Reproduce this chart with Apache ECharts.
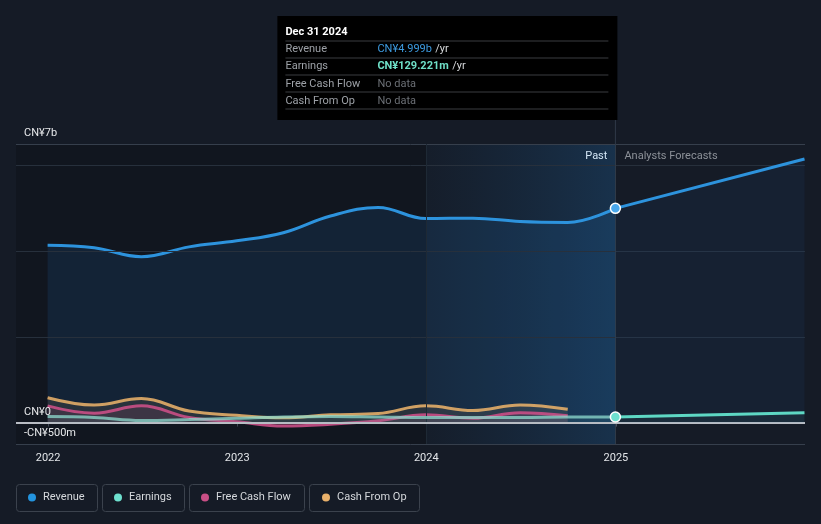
<!DOCTYPE html>
<html>
<head>
<meta charset="utf-8">
<title>Revenue and earnings</title>
<script src="https://cdn.jsdelivr.net/npm/echarts@6.0.0/dist/echarts.min.js"></script>
<style>
  html, body { margin: 0; padding: 0; background: #151b26; }
  #chart { width: 821px; height: 524px; }
</style>
</head>
<body>
<div id="chart"></div>
<script>
// values in CN¥ billions, quarter ends
var pastDates = ['2021-12-31', '2022-03-31', '2022-06-30', '2022-09-30', '2022-12-31', '2023-03-31',
  '2023-06-30', '2023-09-30', '2023-12-31', '2024-03-31', '2024-06-30', '2024-09-30', '2024-12-31'];
var revenuePast = [4.14, 4.08, 3.87, 4.10, 4.24, 4.43, 4.82, 5.02, 4.76, 4.77, 4.69, 4.67, 4.999];
var earningsPast = [0.14, 0.12, 0.05, 0.07, 0.10, 0.13, 0.14, 0.13, 0.12, 0.12, 0.12, 0.13, 0.129];
// cash flow data stops one quarter earlier
var fcfPast = [0.39, 0.22, 0.39, 0.12, 0.02, -0.08, -0.04, 0.04, 0.18, 0.10, 0.23, 0.16];
var cfoPast = [0.58, 0.41, 0.56, 0.27, 0.17, 0.11, 0.18, 0.21, 0.39, 0.28, 0.41, 0.31];

var forecastDates = ['2024-12-31', '2025-12-31'];
var revenueForecast = [4.999, 6.15];
var earningsForecast = [0.129, 0.23];

var yLabelValues = [-0.5, 0, 6.5];
var yLabelTexts = ['-CN¥500m', 'CN¥0', 'CN¥7b'];
var gridValues = [-0.5, 2, 4, 6, 6.5];

var legendNames = ['Revenue', 'Earnings', 'Free Cash Flow', 'Cash From Op'];

var tipRows = ['Revenue', 'Earnings', 'Free Cash Flow', 'Cash From Op'];
var tipValues = ['CN¥4.999b', 'CN¥129.221m', 'No data', 'No data'];

var font = 'Roboto, "Noto Sans", sans-serif';

function pairs(dates, vals) {
  return vals.map(function(v, i) { return [dates[i], v]; });
}
// forecast lines get a dot on the "now" point only
function forecastData(vals, dotColor) {
  return vals.map(function(v, i) {
    if (i === 0) {
      return { value: [forecastDates[i], v], symbol: 'circle', symbolSize: 10,
        itemStyle: { color: dotColor, borderColor: '#ffffff', borderWidth: 1.5 } };
    }
    return { value: [forecastDates[i], v], symbol: 'none' };
  });
}

var myChart = echarts.init(document.getElementById('chart'));

var option = {
  backgroundColor: '#151b26',
  animation: false,
  textStyle: { fontFamily: font },
  grid: { left: 16, right: 16, top: 144, bottom: 80 },
  xAxis: {
    type: 'time',
    min: '2021-10-31',
    max: '2026-01-01',
    splitNumber: 4,
    minInterval: 365 * 24 * 3600 * 1000,
    axisLine: { show: false },
    axisTick: { show: true, length: 4, lineStyle: { color: '#4a5361' } },
    splitLine: { show: false },
    axisLabel: {
      color: '#e2e5e8', fontSize: 11, margin: 9, fontFamily: font,
      showMinLabel: false, showMaxLabel: false,
      formatter: function(v) { return String(new Date(v).getFullYear()); }
    }
  },
  yAxis: {
    type: 'value',
    min: -0.5,
    max: 6.5,
    interval: 0.5,
    axisLine: { show: false },
    axisTick: { show: false },
    splitLine: { show: false },
    axisLabel: {
      inside: true, margin: 8, color: '#e6e8ea', fontSize: 11, fontFamily: font,
      verticalAlign: 'bottom', padding: [0, 0, 5, 0],
      formatter: function(v) {
        var i = yLabelValues.indexOf(Math.round(v * 10) / 10);
        return i >= 0 ? yLabelTexts[i] : '';
      }
    },
    z: 10
  },
  legend: legendNames.map(function(n, i) {
    var lefts = [28, 114, 201, 322];
    return {
      data: [n], left: lefts[i], top: 492, padding: 0,
      icon: 'circle', itemWidth: 8, itemHeight: 8,
      textStyle: { color: '#d5d8dc', fontSize: 11, fontFamily: font, padding: [0, 0, 0, 2] }
    };
  }),
  series: [
    {
      // background bands and grid lines
      type: 'line', data: [], silent: true, z: 1,
      markArea: {
        silent: true,
        data: [
          [{ xAxis: '2021-10-31', itemStyle: { color: 'rgba(0,0,0,0.16)' } }, { xAxis: '2024-01-01' }],
          [{ xAxis: '2024-01-01', itemStyle: {
              color: new echarts.graphic.LinearGradient(0, 0, 1, 0, [
                { offset: 0, color: 'rgba(30,110,180,0.03)' },
                { offset: 1, color: 'rgba(35,130,210,0.22)' }])
            } }, { xAxis: '2024-12-31' }]
        ]
      },
      markLine: {
        silent: true, symbol: 'none', label: { show: false },
        lineStyle: { color: '#2b3441', width: 1, type: 'solid' },
        data: gridValues.map(function(v) {
          var edge = (v === -0.5 || v === 6.5);
          return { yAxis: v, lineStyle: { color: edge ? '#363f4c' : '#27303c' } };
        }).concat([
          { xAxis: '2024-01-01', lineStyle: { color: '#1e2935' } },
          { xAxis: '2024-12-31', lineStyle: { color: '#2f3a48' } },
          { yAxis: 0, lineStyle: { color: '#b9bdc4', width: 2 } }
        ])
      }
    },
    {
      name: 'Revenue', type: 'line', smooth: 0.4, showSymbol: false, z: 3,
      data: pairs(pastDates, revenuePast),
      itemStyle: { color: '#2394df' },
      lineStyle: { color: '#2d93dd', width: 3 },
      areaStyle: { color: 'rgba(35,120,200,0.2)' }
    },
    {
      name: 'Revenue', type: 'line', smooth: false, z: 6,
      data: forecastData(revenueForecast, '#4aa8ec'),
      itemStyle: { color: '#2394df' },
      lineStyle: { color: '#2d93dd', width: 3 },
      areaStyle: { color: 'rgba(40,110,180,0.12)' }
    },
    {
      name: 'Cash From Op', type: 'line', smooth: 0.4, showSymbol: false, z: 4,
      data: pairs(pastDates, cfoPast),
      itemStyle: { color: '#e8b06a' },
      lineStyle: { color: '#e3ad68', width: 3, opacity: 0.9 },
      areaStyle: { color: 'rgba(200,160,100,0.18)' }
    },
    {
      name: 'Free Cash Flow', type: 'line', smooth: 0.4, showSymbol: false, z: 4,
      data: pairs(pastDates, fcfPast),
      itemStyle: { color: '#c94f86' },
      lineStyle: { color: '#c94f86', width: 3, opacity: 0.9 },
      areaStyle: { color: 'rgba(200,80,130,0.18)' }
    },
    {
      name: 'Earnings', type: 'line', smooth: 0.4, showSymbol: false, z: 5,
      data: pairs(pastDates, earningsPast),
      itemStyle: { color: '#6ee0cf' },
      lineStyle: { color: '#8fdccf', width: 3, opacity: 0.75 },
      areaStyle: { color: 'rgba(110,200,190,0.12)' }
    },
    {
      name: 'Earnings', type: 'line', smooth: false, z: 6,
      data: forecastData(earningsForecast, '#6ee0cf'),
      itemStyle: { color: '#6ee0cf' },
      lineStyle: { color: '#5ed8c4', width: 3 },
      areaStyle: { color: 'rgba(90,200,180,0.1)' }
    }
  ]
};

myChart.setOption(option);

// decorations anchored to the "now" date
var nowX = myChart.convertToPixel({ xAxisIndex: 0 }, '2024-12-31');
var topY = myChart.convertToPixel({ yAxisIndex: 0 }, 6.5);

var graphics = [];
// legend boxes
var boxLefts = [16, 102, 189, 309];
var boxWidths = [81, 82, 115, 110];
boxLefts.forEach(function(l, i) {
  graphics.push({ type: 'rect', left: l, top: 484, silent: true, z: -1,
    shape: { width: boxWidths[i], height: 27, r: 3 },
    style: { fill: 'transparent', stroke: '#3b424d', lineWidth: 1 } });
});
// Past / Analysts Forecasts
graphics.push({ type: 'text', x: nowX - 8, y: topY + 12, silent: true,
  style: { text: 'Past', fill: '#ffffff', font: '11px ' + font, align: 'right', verticalAlign: 'middle' } });
graphics.push({ type: 'text', x: nowX + 9, y: topY + 12, silent: true,
  style: { text: 'Analysts Forecasts', fill: '#8c9198', font: '11px ' + font, align: 'left', verticalAlign: 'middle' } });
// line from tooltip to plot
graphics.push({ type: 'line', silent: true, shape: { x1: nowX, y1: 120, x2: nowX, y2: topY },
  style: { stroke: '#2f3a48', lineWidth: 1 } });

// static tooltip box
var tip = { type: 'group', left: nowX - 338, top: 16, children: [] };
tip.children.push({ type: 'rect', shape: { x: 0, y: 0, width: 340, height: 104 }, style: { fill: '#000000' } });
tip.children.push({ type: 'text', x: 8, y: 16,
  style: { text: 'Dec 31 2024', fill: '#ffffff', font: 'bold 11px ' + font, verticalAlign: 'middle' } });
[25, 42, 59, 76, 93].forEach(function(y) {
  tip.children.push({ type: 'line', shape: { x1: 8, y1: y, x2: 331, y2: y }, style: { stroke: '#3a3c40', lineWidth: 1 } });
});
var rowY = [33, 50, 68, 85];
tipRows.forEach(function(r, i) {
  tip.children.push({ type: 'text', x: 8, y: rowY[i],
    style: { text: r, fill: '#9da1a7', font: '11px ' + font, verticalAlign: 'middle' } });
  var val;
  if (i === 0) {
    val = { text: '{v|' + tipValues[i] + '} {u|/yr}', rich: {
      v: { fill: '#3d9be0', font: '11px ' + font }, u: { fill: '#d8dadd', font: '11px ' + font } } };
  } else if (i === 1) {
    val = { text: '{v|' + tipValues[i] + '} {u|/yr}', rich: {
      v: { fill: '#6fe0c8', font: 'bold 11px ' + font }, u: { fill: '#d8dadd', font: '11px ' + font } } };
  } else {
    val = { text: tipValues[i], fill: '#6b6f75', font: '11px ' + font };
  }
  val.verticalAlign = 'middle';
  tip.children.push({ type: 'text', x: 100, y: rowY[i], style: val });
});
graphics.push(tip);

myChart.setOption({ graphic: graphics });
</script>
</body>
</html>
